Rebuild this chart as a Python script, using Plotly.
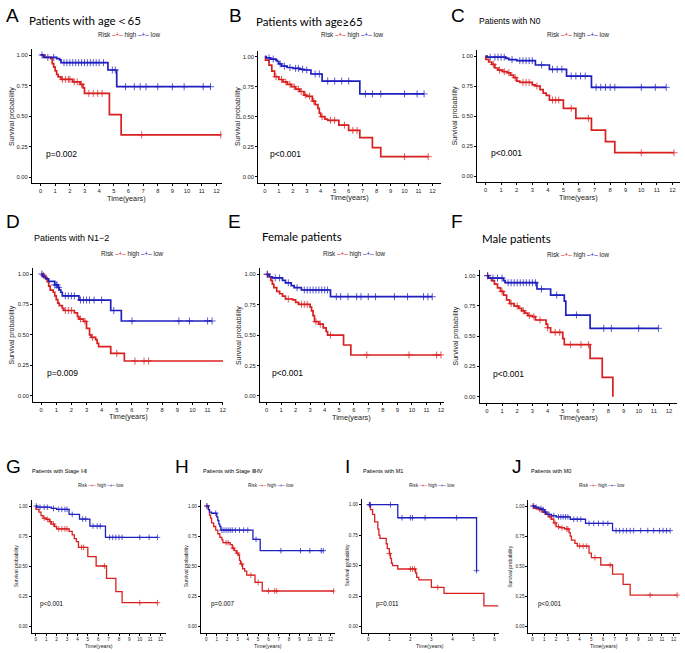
import numpy as np
import plotly.graph_objects as go

W, H = 685, 653
RED = '#D92020'
BLUE = '#2020C0'

# ---------------- data (time in years, survival probability, censor times) -------------
a_high_t = [0, 0.3, 0.7, 0.8, 0.9, 1.0, 1.1, 1.2, 1.4, 2.2, 2.7, 2.9, 3.0, 4.7, 5.5, 12.3]
a_high_s = [1, 0.98, 0.97, 0.93, 0.90, 0.87, 0.84, 0.82, 0.80, 0.78, 0.76, 0.73, 0.685, 0.512, 0.345, 0.345]
a_high_c = [1.5, 1.7, 1.9, 2.0, 2.3, 2.5, 2.8, 3.3, 3.6, 3.9, 4.2, 6.9, 12.3]
a_low_t = [0, 0.2, 1.1, 1.3, 1.4, 4.6, 5.2, 11.6]
a_low_s = [1, 0.98, 0.97, 0.96, 0.937, 0.877, 0.74, 0.74]
a_low_c = [0.1, 0.5, 0.9, 1.6, 1.8, 2.0, 2.2, 2.4, 2.6, 2.8, 3.0, 3.2, 3.4, 3.6, 3.8, 4.0, 4.3,
           4.9, 5.1, 5.8, 6.4, 6.8, 7.2, 8.0, 9.0, 9.8, 11.1, 11.6]

b_high_t = [0, 0.05, 0.3, 0.5, 0.7, 1.0, 1.3, 1.6, 1.9, 2.2, 2.5, 2.8, 3.0, 3.4, 3.6, 3.8, 3.9, 4.0,
            4.3, 4.5, 5.3, 6.0, 6.8, 7.7, 8.3, 11.7]
b_high_s = [1, 0.972, 0.93, 0.88, 0.833, 0.81, 0.79, 0.77, 0.75, 0.73, 0.71, 0.68, 0.67, 0.63, 0.60,
            0.57, 0.53, 0.50, 0.48, 0.47, 0.43, 0.386, 0.325, 0.242, 0.167, 0.167]
b_high_c = [0.8, 1.2, 1.5, 1.8, 2.1, 2.4, 2.6, 2.9, 3.2, 3.5, 4.1, 4.7, 5.0, 5.7, 6.3, 6.6, 10.0, 11.7]
b_low_t = [0, 0.1, 0.4, 0.8, 0.9, 1.0, 1.2, 1.6, 2.0, 2.5, 2.8, 3.3, 4.1, 6.8, 11.4]
b_low_s = [1, 0.99, 0.98, 0.97, 0.96, 0.94, 0.922, 0.91, 0.903, 0.895, 0.889, 0.856, 0.797, 0.69, 0.69]
b_low_c = [0.3, 0.6, 1.1, 1.4, 1.8, 2.2, 2.4, 2.7, 3.0, 3.6, 3.9, 4.5, 5.0, 5.5, 6.0, 7.2, 7.7, 8.3,
           10.0, 10.9, 11.4]

c_high_t = [0, 0.02, 0.2, 0.4, 0.6, 0.8, 1.1, 1.4, 1.6, 1.8, 2.0, 2.2, 3.0, 3.2, 3.5, 3.7, 3.9, 4.1,
            5.0, 5.8, 6.8, 7.7, 8.3, 12.1]
c_high_s = [1, 0.972, 0.95, 0.93, 0.90, 0.883, 0.87, 0.86, 0.84, 0.82, 0.79, 0.78, 0.76, 0.75, 0.72,
            0.69, 0.672, 0.633, 0.564, 0.48, 0.383, 0.286, 0.194, 0.194]
c_high_c = [0.5, 0.9, 1.2, 1.5, 1.9, 2.4, 2.6, 2.8, 3.3, 4.3, 4.5, 4.7, 5.5, 6.6, 10.0, 12.1]
c_low_t = [0, 0.1, 1.3, 1.5, 2.0, 3.2, 4.1, 5.2, 6.8, 11.6]
c_low_s = [1, 0.99, 0.98, 0.97, 0.961, 0.925, 0.889, 0.833, 0.739, 0.739]
c_low_c = [0.3, 0.6, 0.8, 1.0, 1.2, 1.7, 2.2, 2.4, 2.6, 2.8, 3.0, 3.6, 4.3, 4.6, 4.9, 5.5, 5.8, 6.1,
           6.4, 7.1, 7.4, 7.7, 8.0, 8.3, 10.0, 10.9, 11.6]

d_high_t = [0, 0.1, 0.2, 0.4, 0.5, 0.6, 0.8, 0.9, 1.0, 1.1, 1.2, 1.4, 1.5, 2.2, 2.4, 2.5, 2.8, 3.0,
            3.2, 3.3, 3.6, 3.7, 3.8, 4.6, 5.5, 12.4]
d_high_s = [1, 0.99, 0.97, 0.937, 0.90, 0.868, 0.85, 0.82, 0.79, 0.76, 0.74, 0.718, 0.70, 0.68, 0.65,
            0.63, 0.61, 0.553, 0.50, 0.479, 0.46, 0.43, 0.403, 0.348, 0.285, 0.285]
d_high_c = [0.15, 1.6, 1.8, 2.0, 2.6, 2.9, 3.4, 5.0, 6.2, 6.8, 7.1, 12.4]
d_low_t = [0, 0.1, 0.3, 0.5, 0.9, 1.1, 1.2, 1.3, 1.4, 2.5, 4.6, 5.3, 11.3]
d_low_s = [1, 0.98, 0.96, 0.94, 0.91, 0.89, 0.87, 0.85, 0.82, 0.786, 0.70, 0.614, 0.614]
d_low_c = [0.05, 0.9, 1.0, 1.05, 1.15, 1.6, 1.8, 2.0, 2.2, 2.6, 2.8, 3.0, 3.2, 3.5, 4.0, 4.8, 6.0,
           9.1, 9.8, 11.0, 11.3]

e_high_t = [0, 0.1, 0.3, 0.4, 0.5, 0.7, 0.9, 1.1, 1.3, 1.8, 2.0, 2.2, 3.0, 3.1, 3.2, 3.3, 3.6, 3.9,
            4.1, 4.2, 5.3, 5.8, 12.0]
e_high_s = [1, 0.98, 0.95, 0.92, 0.89, 0.86, 0.84, 0.82, 0.797, 0.79, 0.77, 0.753, 0.73, 0.70, 0.66,
            0.611, 0.59, 0.56, 0.53, 0.50, 0.419, 0.337, 0.337]
e_high_c = [0.05, 1.5, 2.4, 2.6, 2.8, 3.4, 3.7, 4.4, 6.9, 9.8, 11.7, 12.0]
e_low_t = [0, 0.2, 0.4, 1.1, 1.3, 1.7, 1.9, 2.4, 4.4, 11.4]
e_low_s = [1, 0.98, 0.97, 0.95, 0.93, 0.907, 0.89, 0.871, 0.816, 0.816]
e_low_c = [0.05, 0.6, 0.9, 1.5, 2.1, 2.6, 2.8, 3.0, 3.2, 3.4, 3.6, 3.8, 4.0, 4.2, 4.8, 5.1, 5.6, 6.2,
           6.5, 7.0, 7.5, 8.8, 9.7, 10.8, 11.1, 11.4]

f_high_t = [0, 0.1, 0.3, 0.5, 0.7, 0.9, 1.1, 1.3, 1.5, 1.8, 2.1, 2.3, 2.5, 2.7, 3.0, 3.2, 3.9, 4.0,
            4.2, 5.0, 5.1, 6.8, 7.6, 8.3]
f_high_s = [1, 0.98, 0.96, 0.93, 0.90, 0.87, 0.84, 0.80, 0.77, 0.749, 0.73, 0.71, 0.69, 0.67, 0.661,
            0.634, 0.60, 0.57, 0.532, 0.48, 0.43, 0.317, 0.16, 0.0]
f_high_c = [0.05, 1.0, 1.6, 2.0, 2.4, 2.8, 3.1, 3.5, 4.0, 4.5, 4.8, 5.5, 6.2, 6.7]
f_low_t = [0, 0.1, 1.1, 1.2, 3.3, 4.2, 5.1, 5.2, 6.8, 11.3]
f_low_s = [1, 0.98, 0.96, 0.942, 0.89, 0.84, 0.79, 0.675, 0.565, 0.565]
f_low_c = [0.05, 0.4, 0.7, 1.0, 1.4, 1.6, 1.8, 2.0, 2.2, 2.4, 2.6, 2.8, 3.0, 3.2, 3.6, 4.6, 5.9, 7.7,
           8.2, 10.0, 11.3]

g_high_t = [0, 0.02, 0.3, 0.5, 0.7, 1.0, 1.3, 1.5, 1.8, 2.0, 3.2, 3.5, 3.7, 3.9, 4.1, 5.0, 5.8, 6.8,
            7.7, 8.3, 11.7]
g_high_s = [1, 0.972, 0.95, 0.92, 0.90, 0.89, 0.87, 0.85, 0.83, 0.81, 0.79, 0.76, 0.73, 0.704, 0.657,
            0.58, 0.503, 0.40, 0.29, 0.199, 0.199]
g_high_c = [0.8, 1.1, 1.4, 1.7, 2.2, 2.5, 2.8, 3.0, 4.4, 4.6, 6.6, 10.0, 11.7]
g_low_t = [0, 0.1, 1.5, 2.0, 3.2, 4.2, 5.2, 6.7, 11.7]
g_low_s = [1, 0.99, 0.98, 0.972, 0.93, 0.892, 0.834, 0.74, 0.74]
g_low_c = [0.05, 0.4, 0.8, 1.1, 1.7, 2.2, 2.5, 2.8, 3.0, 3.5, 4.5, 4.8, 5.5, 5.9, 6.2, 7.1, 7.4, 7.7,
           8.0, 8.3, 10.0, 10.9, 11.7]

h_high_t = [0, 0.2, 0.3, 0.4, 0.5, 0.7, 0.9, 1.1, 1.3, 1.5, 1.6, 2.3, 2.5, 2.7, 2.9, 3.1, 3.2, 3.3,
            3.5, 3.7, 3.9, 4.7, 5.4, 12.3]
h_high_s = [1, 0.97, 0.925, 0.90, 0.86, 0.83, 0.80, 0.77, 0.74, 0.72, 0.696, 0.68, 0.65, 0.63, 0.61,
            0.594, 0.55, 0.52, 0.48, 0.46, 0.428, 0.367, 0.296, 0.296]
h_high_c = [0.05, 1.9, 2.1, 2.6, 3.0, 3.4, 4.3, 5.0, 6.0, 6.6, 6.8, 12.3]
h_low_t = [0, 0.2, 0.3, 0.5, 1.0, 1.1, 1.2, 1.3, 1.4, 4.5, 5.2, 11.3]
h_low_s = [1, 0.97, 0.95, 0.94, 0.91, 0.88, 0.85, 0.83, 0.80, 0.724, 0.63, 0.63]
h_low_c = [0.05, 0.9, 1.5, 1.7, 1.9, 2.1, 2.3, 2.5, 2.8, 3.2, 3.6, 4.0, 4.8, 7.2, 9.1, 10.0, 11.1, 11.3]

i_high_t = [0, 0.1, 0.2, 0.3, 0.45, 0.5, 0.55, 0.85, 0.9, 1.0, 1.05, 1.1, 1.15, 1.4, 2.25, 2.3, 2.4,
            3.0, 3.6, 5.5, 6.2]
i_high_s = [1, 0.96, 0.92, 0.86, 0.80, 0.75, 0.724, 0.68, 0.64, 0.60, 0.56, 0.52, 0.50, 0.473, 0.44,
            0.404, 0.383, 0.322, 0.273, 0.17, 0.17]
i_high_c = [0.05, 1.0, 2.0, 2.1, 2.2, 3.3]
i_low_t = [0, 1.4, 5.15]
i_low_s = [1, 0.893, 0.459]
i_low_c = [0.05, 0.1, 1.05, 1.6, 2.0, 2.1, 2.7, 4.2, 5.15]

j_high_t = [0, 0.1, 0.5, 0.8, 1.1, 1.4, 1.6, 1.8, 2.0, 2.3, 2.7, 3.1, 3.2, 3.3, 3.6, 3.8, 4.8, 5.0,
            5.8, 6.8, 7.7, 8.3, 12.3]
j_high_s = [1, 0.98, 0.97, 0.95, 0.93, 0.91, 0.89, 0.86, 0.829, 0.82, 0.81, 0.78, 0.75, 0.718, 0.69,
            0.668, 0.61, 0.572, 0.511, 0.436, 0.35, 0.262, 0.262]
j_high_c = [0.05, 0.6, 1.0, 1.3, 1.5, 1.9, 2.2, 2.5, 2.9, 3.0, 4.0, 4.3, 4.6, 5.3, 6.6, 10.0, 12.3]
j_low_t = [0, 0.2, 0.5, 0.8, 1.0, 1.2, 1.6, 2.0, 3.2, 4.5, 6.8, 11.7]
j_low_s = [1, 0.99, 0.98, 0.97, 0.95, 0.93, 0.92, 0.91, 0.89, 0.856, 0.796, 0.796]
j_low_c = [0.05, 0.3, 0.7, 0.9, 1.1, 1.4, 1.8, 2.2, 2.4, 2.6, 2.8, 3.0, 3.5, 3.8, 4.1, 4.8, 5.2, 5.6,
           6.0, 6.4, 7.1, 7.4, 7.7, 8.0, 8.3, 8.6, 9.2, 9.8, 10.3, 10.8, 11.1, 11.4, 11.7]

panel_letters = ['A', 'B', 'C', 'D', 'E', 'F', 'G', 'H', 'I', 'J']
panel_titles = ['Patients with age＜65', 'Patients with age≥65', 'Patients with N0',
                'Patients with N1−2', 'Female patients', 'Male patients',
                'Patients with Stage Ⅰ-Ⅱ', 'Patients with Stage Ⅲ-Ⅳ',
                'Patients with M1', 'Patients with M0']
p_values = ['p=0.002', 'p<0.001', 'p<0.001', 'p=0.009', 'p<0.001', 'p<0.001',
            'p<0.001', 'p=0.007', 'p=0.011', 'p<0.001']
y_tick_vals = [0, 0.25, 0.5, 0.75, 1.0]
y_tick_text = ['0.00', '0.25', '0.50', '0.75', '1.00']

curves = [
    ((a_high_t, a_high_s, a_high_c), (a_low_t, a_low_s, a_low_c)),
    ((b_high_t, b_high_s, b_high_c), (b_low_t, b_low_s, b_low_c)),
    ((c_high_t, c_high_s, c_high_c), (c_low_t, c_low_s, c_low_c)),
    ((d_high_t, d_high_s, d_high_c), (d_low_t, d_low_s, d_low_c)),
    ((e_high_t, e_high_s, e_high_c), (e_low_t, e_low_s, e_low_c)),
    ((f_high_t, f_high_s, f_high_c), (f_low_t, f_low_s, f_low_c)),
    ((g_high_t, g_high_s, g_high_c), (g_low_t, g_low_s, g_low_c)),
    ((h_high_t, h_high_s, h_high_c), (h_low_t, h_low_s, h_low_c)),
    ((i_high_t, i_high_s, i_high_c), (i_low_t, i_low_s, i_low_c)),
    ((j_high_t, j_high_s, j_high_c), (j_low_t, j_low_s, j_low_c)),
]

# ---------------- layout geometry (pixels) ----------------
geo = [
    dict(l=32, r=223, x0=40.7, ppy=14.72, y1=55, y0=177, let=(4, 15), tit=(27, 20, 11.5, 'Lato'), leg=(96.7, 35), yt=12, big=True),
    dict(l=259.3, r=443.3, x0=266, ppy=14.03, y1=56.7, y0=176.7, let=(228, 15), tit=(255, 21, 11.5, 'Lato'), leg=(320, 35), yt=238.3, big=True),
    dict(l=479.3, r=683, x0=487.7, ppy=15.64, y1=56, y0=176, let=(451, 15), tit=(479, 21, 8.5, 'Liberation Sans'), leg=(547, 35), yt=457.3, big=True),
    dict(l=33.3, r=224, x0=41.3, ppy=15.2, y1=274, y0=395.7, let=(4, 222), tit=(32, 238, 9, 'Liberation Sans'), leg=(99.3, 254), yt=11.7, big=True),
    dict(l=261, r=446, x0=267.7, ppy=14.6, y1=274.3, y0=396, let=(227, 222), tit=(261, 237, 11.5, 'Lato'), leg=(322.7, 254), yt=240, big=True),
    dict(l=481.7, r=680, x0=489, ppy=15.25, y1=275.7, y0=396.7, let=(451, 222), tit=(482, 238, 11.5, 'Lato'), leg=(547.3, 255), yt=458.3, big=True),
    dict(l=31.7, r=166.7, x0=36, ppy=10.44, y1=506, y0=626.7, let=(4, 466), tit=(30, 471, 5.5, 'Liberation Sans'), leg=(76, 485.7), yt=16, big=False),
    dict(l=201.7, r=336.7, x0=207.3, ppy=10.39, y1=506, y0=626.7, let=(174, 466), tit=(202, 471, 5.5, 'Liberation Sans'), leg=(246.7, 485.7), yt=186.7, big=False),
    dict(l=363.3, r=500.7, x0=370, ppy=21.1, y1=504.7, y0=626.7, let=(345, 466), tit=(363, 471, 5.5, 'Liberation Sans'), leg=(409, 485.7), yt=348.3, big=False),
    dict(l=530.7, r=682.7, x0=535, ppy=11.8, y1=506, y0=626.7, let=(512, 466), tit=(531, 471, 5.5, 'Liberation Sans'), leg=(579.3, 485.7), yt=512.7, big=False),
]


def px(x):
    return x / W


def py(y):
    return 1 - y / H


def surv_at(t, s, c):
    idx = np.searchsorted(np.asarray(t), np.asarray(c), side='right') - 1
    return np.asarray(s)[idx]


fig = go.Figure()
annotations = []
TXT = '#222222'
FONT = 'Liberation Sans'

for i, ((hi, lo), g) in enumerate(zip(curves, geo)):
    n = '' if i == 0 else str(i + 1)
    xa, ya = 'x' + n, 'y' + n
    lw = 1.7 if g['big'] else 1.3
    msz = 5 if g['big'] else 4
    for (t, s, c), col in ((hi, RED), (lo, BLUE)):
        fig.add_trace(go.Scatter(x=t, y=s, mode='lines', line=dict(color=col, width=lw, shape='hv'),
                                 xaxis=xa, yaxis=ya, showlegend=False, hoverinfo='skip'))
        fig.add_trace(go.Scatter(x=c, y=surv_at(t, s, c), mode='markers',
                                 marker=dict(symbol='cross-thin', size=msz, opacity=0.75,
                                             line=dict(color=col, width=1)),
                                 xaxis=xa, yaxis=ya, showlegend=False, hoverinfo='skip'))

    span = g['y0'] - g['y1']
    top = g['y1'] - 0.05 * span
    bot = g['y0'] + 0.05 * span
    tfs = 5.8 if g['big'] else 4.6
    xr = [(g['l'] - g['x0']) / g['ppy'], (g['r'] - g['x0']) / g['ppy']]
    axis_common = dict(showline=True, linecolor='black', linewidth=1, ticks='outside',
                       ticklen=2, tickcolor='black', tickwidth=1,
                       showgrid=False, zeroline=False, tickfont=dict(size=tfs, color=TXT, family=FONT),
                       fixedrange=True)
    fig.update_layout(**{
        'xaxis' + n: dict(domain=[px(g['l']), px(g['r'])], range=xr, anchor=ya,
                          tick0=0, dtick=1, **axis_common),
        'yaxis' + n: dict(domain=[py(bot), py(top)], range=[-0.05, 1.05], anchor=xa,
                          tickvals=y_tick_vals, ticktext=y_tick_text, **axis_common),
    })

    cx = (g['l'] + g['r']) / 2
    cy = (top + bot) / 2
    afs = 7.3 if g['big'] else 5.2
    annotations.append(dict(text=panel_letters[i], x=px(g['let'][0]), y=py(g['let'][1]), xref='paper',
                            yref='paper', xanchor='left', yanchor='middle', showarrow=False,
                            font=dict(size=19, family=FONT, color='black')))
    tx, ty, tsz, tfam = g['tit']
    annotations.append(dict(text=panel_titles[i], x=px(tx), y=py(ty), xref='paper', yref='paper',
                            xanchor='left', yanchor='middle', showarrow=False,
                            font=dict(size=tsz, family=tfam, color='black')))
    lfs = 6.3 if g['big'] else 4.6
    leg = ("Risk <span style='color:%s'>–+–</span> high <span style='color:%s'>–+–</span> low"
           % (RED, BLUE))
    annotations.append(dict(text=leg, x=px(g['leg'][0]), y=py(g['leg'][1]), xref='paper', yref='paper',
                            xanchor='left', yanchor='middle', showarrow=False,
                            font=dict(size=lfs, family=FONT, color=TXT)))
    annotations.append(dict(text='Time(years)', x=px(cx), y=py(bot + (15 if g['big'] else 13.5)),
                            xref='paper', yref='paper', xanchor='center', yanchor='middle',
                            showarrow=False, font=dict(size=afs, family=FONT, color=TXT)))
    annotations.append(dict(text='Survival probability', x=px(g['yt']), y=py(cy), xref='paper',
                            yref='paper', xanchor='center', yanchor='middle', textangle=-90,
                            showarrow=False, font=dict(size=7 if g['big'] else 5, family=FONT, color=TXT)))
    annotations.append(dict(text=p_values[i], x=0.25, y=0.19, xref=xa, yref=ya, xanchor='left',
                            yanchor='middle', showarrow=False,
                            font=dict(size=8.5 if g['big'] else 6.3, family=FONT, color='black')))

fig.update_layout(width=W, height=H, margin=dict(l=0, r=0, t=0, b=0), paper_bgcolor='white',
                  plot_bgcolor='white', showlegend=False, annotations=annotations)
fig.write_html('out.html', config={'displayModeBar': False},
               post_script="document.body.style.margin='0';document.body.style.overflow='hidden';")
